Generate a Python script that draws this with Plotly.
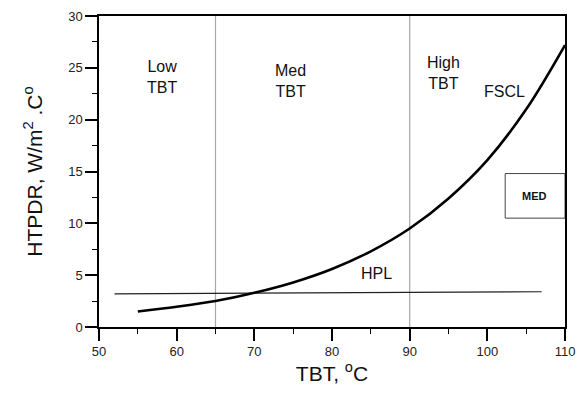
import plotly.graph_objects as go

# FSCL curve
fscl_x = [55, 60, 65, 70, 75, 80, 85, 90, 95, 100, 105, 110]
fscl_y = [1.5, 1.95, 2.5, 3.3, 4.3, 5.6, 7.3, 9.5, 12.4, 16.1, 21.0, 27.2]

# HPL line
hpl_x = [52, 107]
hpl_y = [3.2, 3.4]

# region boundaries
bound_x = [65, 90]

# labels
label_text = ["Low<br>TBT", "Med<br>TBT", "High<br>TBT", "FSCL", "HPL"]
label_x = [58.1, 74.7, 94.3, 102.2, 85.7]
label_y = [24.1, 23.7, 24.5, 22.7, 5.2]

FONT = "Liberation Sans, Arial, sans-serif"

fig = go.Figure()
for bx in bound_x:
    fig.add_trace(go.Scatter(x=[bx, bx], y=[0, 30], mode="lines",
                             line=dict(color="#a8a8a8", width=1.2), showlegend=False, hoverinfo="skip"))
fig.add_trace(go.Scatter(x=hpl_x, y=hpl_y, mode="lines",
                         line=dict(color="#222222", width=1.2), showlegend=False))
fig.add_trace(go.Scatter(x=fscl_x, y=fscl_y, mode="lines", line_shape="spline",
                         line=dict(color="black", width=2.6), showlegend=False))

for t, x, y in zip(label_text, label_x, label_y):
    fig.add_annotation(x=x, y=y, text=t, showarrow=False, align="center",
                       font=dict(family=FONT, size=16, color="#111"))

# MED box
fig.add_shape(type="rect", x0=102.3, x1=110, y0=10.5, y1=14.8,
              line=dict(color="#444", width=1), fillcolor="white", layer="above")
fig.add_annotation(x=106.1, y=12.65, text="<b>MED</b>", showarrow=False,
                   font=dict(family=FONT, size=11, color="#111"))

axis_common = dict(showline=True, linecolor="black", linewidth=1.5, mirror=True,
                   ticks="outside", ticklen=12, tickwidth=1.5, tickcolor="black",
                   showgrid=False, zeroline=False,
                   tickfont=dict(family=FONT, size=13, color="#222"))

fig.update_xaxes(range=[50, 110], dtick=10, tick0=50,
                 minor=dict(dtick=5, ticklen=5, tickwidth=1.2, tickcolor="black", ticks="outside"),
                 title=dict(text="TBT, <sup>o</sup>C", font=dict(family=FONT, size=21, color="#111"), standoff=8),
                 **axis_common)
fig.update_yaxes(range=[0, 30], dtick=5, tick0=0,
                 minor=dict(dtick=2.5, ticklen=5, tickwidth=1.2, tickcolor="black", ticks="outside"),
                 title=dict(text="HTPDR, W/m<sup>2</sup> .C<sup>o</sup>", font=dict(family=FONT, size=21, color="#111"), standoff=20),
                 **axis_common)

fig.update_layout(width=584, height=397, margin=dict(l=99, r=9, t=14, b=70),
                  paper_bgcolor="white", plot_bgcolor="white",
                  font=dict(family=FONT))

fig.write_html("out.html")
